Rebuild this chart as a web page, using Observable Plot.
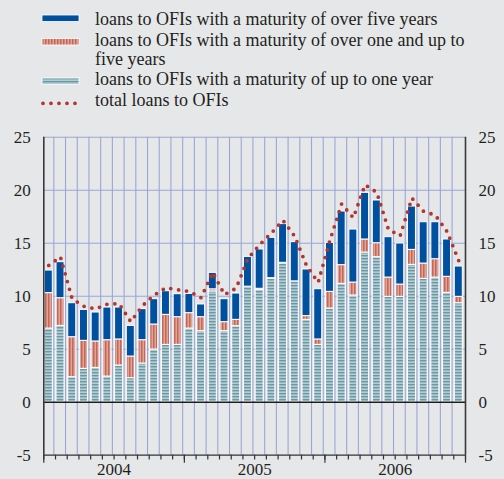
<!DOCTYPE html>
<html><head><meta charset="utf-8">
<script src="https://cdn.jsdelivr.net/npm/d3@7"></script>
<script src="https://cdn.jsdelivr.net/npm/@observablehq/plot@0.6"></script>
<style>
body{margin:0;background:#e6e7e9;width:504px;height:479px;overflow:hidden;position:relative;font-family:"Liberation Serif","Times New Roman",serif;}
#legend{position:absolute;left:0;top:0;}
#chart{position:absolute;left:0;top:120px;}
</style></head><body>
<svg id="defs" width="0" height="0" style="position:absolute">
  <defs>
    <pattern id="patTeal" patternUnits="userSpaceOnUse" width="4" height="3">
      <rect width="4" height="3" fill="#b3cdd3"/>
      <rect width="4" height="1.4" fill="#6b98a4"/>
    </pattern>
    <pattern id="patRed" patternUnits="userSpaceOnUse" width="3" height="4">
      <rect width="3" height="4" fill="#e1a596"/>
      <rect width="1.5" height="4" fill="#c4675a"/>
    </pattern>
  </defs>
</svg>
<div id="legend"></div>
<div id="chart"></div>
<script>
// ---- data ----
const months = ["Jan 2004","Feb 2004","Mar 2004","Apr 2004","May 2004","Jun 2004","Jul 2004","Aug 2004","Sep 2004","Oct 2004","Nov 2004","Dec 2004",
                "Jan 2005","Feb 2005","Mar 2005","Apr 2005","May 2005","Jun 2005","Jul 2005","Aug 2005","Sep 2005","Oct 2005","Nov 2005","Dec 2005",
                "Jan 2006","Feb 2006","Mar 2006","Apr 2006","May 2006","Jun 2006","Jul 2006","Aug 2006","Sep 2006","Oct 2006","Nov 2006","Dec 2006"];
const yearLabels = ["2004","2005","2006"];
const seriesNames = [
  "loans to OFIs with a maturity of over five years",
  "loans to OFIs with a maturity of over one and up to five years",
  "loans to OFIs with a maturity of up to one year",
  "total loans to OFIs"
];
const overFive  = [2.13,3.40,3.21,2.92,2.73,3.08,3.01,2.89,2.93,2.39,2.23,2.17,1.82,1.20,1.55,2.17,2.48,2.81,3.71,3.81,3.65,3.70,4.40,4.74,4.62,5.06,5.00,4.40,4.03,3.81,3.87,4.09,3.90,3.49,3.52,2.86];
const oneToFive = [3.34,2.61,3.77,2.64,2.49,3.43,2.46,2.04,2.20,2.36,2.83,2.61,1.45,1.32,0.20,0.85,0.60,-0.20,0.10,0.05,0.05,-0.05,0.35,0.51,1.57,1.76,1.22,1.23,1.32,1.82,1.16,1.41,1.44,1.73,1.51,0.60];
const upToOne   = [6.95,7.20,2.36,3.15,3.24,2.42,3.46,2.27,3.65,4.97,5.41,5.41,6.95,6.70,10.45,6.70,7.17,10.90,10.60,11.65,13.10,11.40,7.77,5.41,8.84,11.17,10.07,14.12,13.68,9.94,9.94,12.96,11.64,11.76,10.32,9.34];
const total     = [12.9,13.7,9.75,9.05,8.8,9.25,9.3,7.6,9.1,10.1,10.8,10.6,10.45,9.85,12.25,10.15,10.75,13.55,14.85,15.95,17.15,15.65,12.9,11.3,15.25,18.7,17.4,20.5,19.8,16.3,15.7,19.25,18.0,17.65,16.1,13.35];
const yTicks = [-5,0,5,10,15,20,25];

// ---- colours ----
const blue = "#0050a0";
const dotRed = "#b3362c";
const gridColor = "#9aa7d6";

// ---- table ----
const rows = [];
months.forEach((m, i) => {
  rows.push({i, month: m, series: seriesNames[2], value: upToOne[i]});
  rows.push({i, month: m, series: seriesNames[1], value: oneToFive[i]});
  rows.push({i, month: m, series: seriesNames[0], value: overFive[i]});
});
const totals = total.map((v, i) => ({i, value: v}));
const boundaries = d3.range(1, months.length);
const allBoundaries = d3.range(0, months.length + 1);
const yearBounds = allBoundaries.filter(k => k % 12 === 0);
const years = yearLabels.map((y, k) => ({label: y, mid: k * 12 + 6}));

const chart = Plot.plot({
  width: 504,
  height: 359,
  marginLeft: 43.3,
  marginRight: 39,
  marginTop: 16.7,
  marginBottom: 24.3,
  x: {domain: [0, months.length], axis: null},
  y: {domain: [-5, 25], axis: null},
  color: {domain: [seriesNames[2], seriesNames[1], seriesNames[0]], range: ["url(#patTeal)", "url(#patRed)", blue]},
  style: {background: "transparent", fontFamily: "'Liberation Serif','Times New Roman',serif", fontSize: "17px", color: "#231f20", overflow: "visible"},
  marks: [
    Plot.ruleY(yTicks.filter(t => t > 0), {y: d => d, x1: 0, x2: months.length, stroke: gridColor, strokeWidth: 1.1}),
    Plot.ruleX(boundaries, {x: d => d, y1: -5, y2: 25, dx: -1.7, stroke: gridColor, strokeWidth: 1.1}),
    Plot.rect(rows, Plot.stackY({
      x: "i", y: "value", z: "series",
      x1: "i", x2: d => d.i + 1,
      fill: "series", stroke: "white", strokeWidth: 1,
      insetLeft: 1, insetRight: 2.7
    })),
    Plot.ruleY([0], {x1: 0, x2: months.length, stroke: "#1d1d1d", strokeWidth: 1.6}),
    Plot.ruleY([-5], {x1: 0, x2: months.length, stroke: "#333", strokeWidth: 1.2}),
    Plot.ruleX(allBoundaries, {x: d => d, y1: -5, y2: -5.45, stroke: "#333", strokeWidth: 1.2}),
    Plot.ruleX(yearBounds, {x: d => d, y1: -5, y2: -5.75, stroke: "#333", strokeWidth: 1.2}),
    Plot.ruleX([0, months.length], {x: d => d, y1: -5, y2: 25, stroke: "#3a3a3a", strokeWidth: 1.6}),
    Plot.line(totals, {x: d => d.i + 0.5, y: "value", dx: -0.9, stroke: dotRed, strokeWidth: 3.8, strokeDasharray: "0 8", strokeLinecap: "round", curve: "linear"}),
    Plot.text(yTicks, {x: 0, y: d => d, text: d => String(d), textAnchor: "end", dx: -13, fontSize: 17, fill: "#231f20"}),
    Plot.text(yTicks, {x: months.length, y: d => d, text: d => String(d), textAnchor: "start", dx: 13, fontSize: 17, fill: "#231f20"}),
    Plot.text(years, {x: "mid", y: -5, text: "label", dy: 14, fontSize: 17, fill: "#231f20"})
  ]
});
document.getElementById("chart").appendChild(chart);

// ---- legend ----
const lg = d3.select("#legend").append("svg").attr("width", 504).attr("height", 118);
const tx = 95;
const lines = [
  {text: seriesNames[0], y: 25},
  {text: "loans to OFIs with a maturity of over one and up to", y: 46},
  {text: "five years", y: 65},
  {text: seriesNames[2], y: 85},
  {text: seriesNames[3], y: 106}
];
lg.selectAll("text").data(lines).join("text")
  .attr("x", tx).attr("y", d => d.y)
  .attr("font-family", "'Liberation Serif','Times New Roman',serif")
  .attr("font-size", 18).attr("fill", "#231f20")
  .text(d => d.text);
lg.append("rect").attr("x", 42).attr("y", 15).attr("width", 37).attr("height", 6.5).attr("fill", blue).attr("stroke", "white").attr("stroke-width", 0.8);
lg.append("rect").attr("x", 42).attr("y", 38.5).attr("width", 37).attr("height", 6.5).attr("fill", "url(#patRed)").attr("stroke", "white").attr("stroke-width", 0.8);
lg.append("rect").attr("x", 42).attr("y", 78).attr("width", 37).attr("height", 6.5).attr("fill", "url(#patTeal)").attr("stroke", "white").attr("stroke-width", 0.8);
lg.append("line").attr("x1", 43).attr("x2", 80).attr("y1", 103.3).attr("y2", 103.3)
  .attr("stroke", dotRed).attr("stroke-width", 3.8).attr("stroke-dasharray", "0 8").attr("stroke-linecap", "round");
</script>
</body></html>
